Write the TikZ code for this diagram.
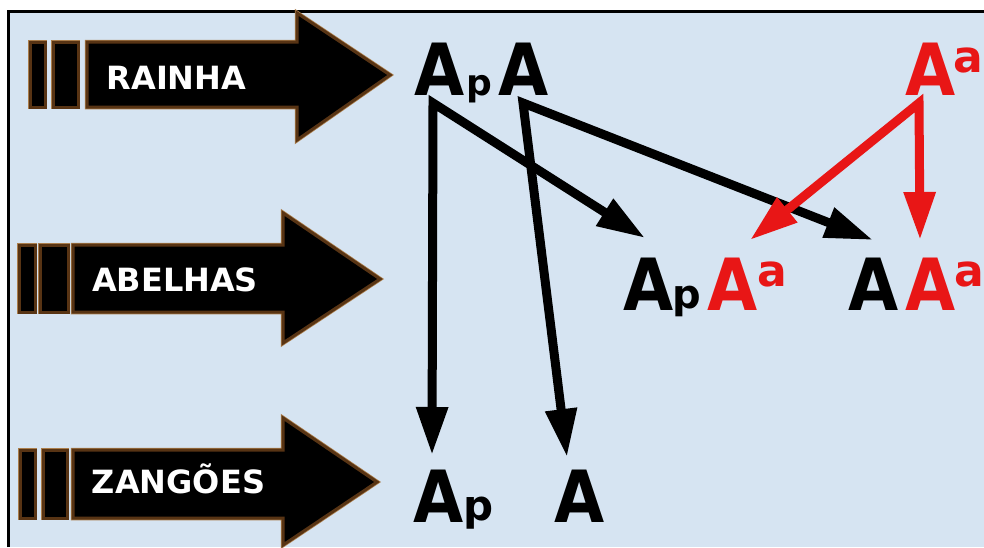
\documentclass[tikz,border=0pt]{standalone}
\usepackage{fontspec}
\usepackage{graphicx}
\setmainfont{DejaVu Sans}
\usetikzlibrary{arrows.meta}
\definecolor{bgblue}{RGB}{214,228,242}
\definecolor{redg}{RGB}{232,22,22}
\definecolor{brownedge}{RGB}{88,52,20}
\definecolor{tanedge}{RGB}{170,125,75}
\newcommand{\nx}[2][0.9]{\scalebox{#1}[1]{#2}}
\begin{document}
\begin{tikzpicture}[x=1pt,y=-1pt,
  blockarrow/.style={fill=black, draw=brownedge, line width=3pt, line join=miter,
    preaction={draw=tanedge, line width=4.5pt, line join=miter}},
  lbl/.style={inner sep=0pt, anchor=base, text=white, font=\fontsize{32}{32}\selectfont\bfseries},
  bigA/.style={inner sep=0pt, anchor=base, font=\fontsize{72}{72}\selectfont\bfseries},
  smallp/.style={inner sep=0pt, anchor=base, font=\fontsize{#1}{#1}\selectfont\bfseries},
  supa/.style={inner sep=0pt, anchor=base, text=redg, font=\fontsize{44}{44}\selectfont\bfseries},
  conn/.style={line width=9pt, line join=miter,
    {Triangle[length=48pt,width=30pt]}-{Triangle[length=48pt,width=30pt]}},
  blackconn/.style={conn, draw=black},
  redconn/.style={conn, draw=redg}
]
\useasboundingbox (0,0) rectangle (984,547);
% frame and background
\fill[white] (0,0) rectangle (984,547);
\fill[bgblue] (8,10) rectangle (984,547);
\draw[line width=3pt] (8.5,547) -- (8.5,11.5) -- (984,11.5);

% block arrows
\draw[blockarrow] (30,42) rectangle (45,107);
\draw[blockarrow] (53,42) rectangle (78,107);
\draw[blockarrow] (87,42) -- (297,42) -- (297,13) -- (390,75) -- (297,140) -- (297,107) -- (87,107) -- cycle;
\node[lbl] (rainha) at (176.5,89) {RAINHA};

\draw[blockarrow] (19,245) rectangle (35,312);
\draw[blockarrow] (40,245) rectangle (68,312);
\draw[blockarrow] (73,245) -- (283,245) -- (283,213) -- (380,279) -- (283,343) -- (283,312) -- (73,312) -- cycle;
\node[lbl] (abelhas) at (175,291) {ABELHAS};

\draw[blockarrow] (20,450) rectangle (35,518);
\draw[blockarrow] (43,450) rectangle (67,518);
\draw[blockarrow] (73,450) -- (283,450) -- (283,418) -- (377,482) -- (283,545) -- (283,518) -- (73,518) -- cycle;
\node[lbl] (zangoes) at (178.5,493) {ZANGÕES};

% queen
\node[bigA] (qA1) at (440,95) {\nx{A}};
\node[smallp=36] (qp) at (479,95) {p};
\node[bigA] (qA2) at (524,95) {\nx{A}};
% father (red)
\node[bigA, text=redg] (fA) at (931,95) {\nx{A}};
\node[supa] (fa) at (968,72) {a};

% workers
\node[bigA] (w1A) at (649,310) {\nx{A}};
\node[smallp=40] (w1p) at (687,308) {p};
\node[bigA, text=redg] (w1R) at (733,310) {\nx{A}};
\node[supa] (w1a) at (772,286) {a};
\node[bigA] (w2A) at (874,310) {\nx{A}};
\node[bigA, text=redg] (w2R) at (931,310) {\nx{A}};
\node[supa] (w2a) at (969,286) {a};

% drones
\node[bigA] (d1A) at (438.5,522) {\nx{A}};
\node[smallp=42] (d1p) at (479,520) {p};
\node[bigA] (d2A) at (580,522) {\nx{A}};

% connector points
\coordinate (sq1) at (433,103);
\coordinate (sq2) at (523,103);
\coordinate (sf) at (919,103);
\coordinate (to d1) at (432,455);
\coordinate (to w1) at (645,238);
\coordinate (to d2) at (567,457);
\coordinate (to w2) at (873,240);
\coordinate (to w1r) at (750,240);
\coordinate (to w2r) at (920,240);

\draw[blackconn] (to d1) -- (sq1) -- (to w1);
\draw[blackconn] (to d2) -- (sq2) -- (to w2);
\draw[redconn] (to w1r) -- (sf) -- (to w2r);
\end{tikzpicture}
\end{document}
